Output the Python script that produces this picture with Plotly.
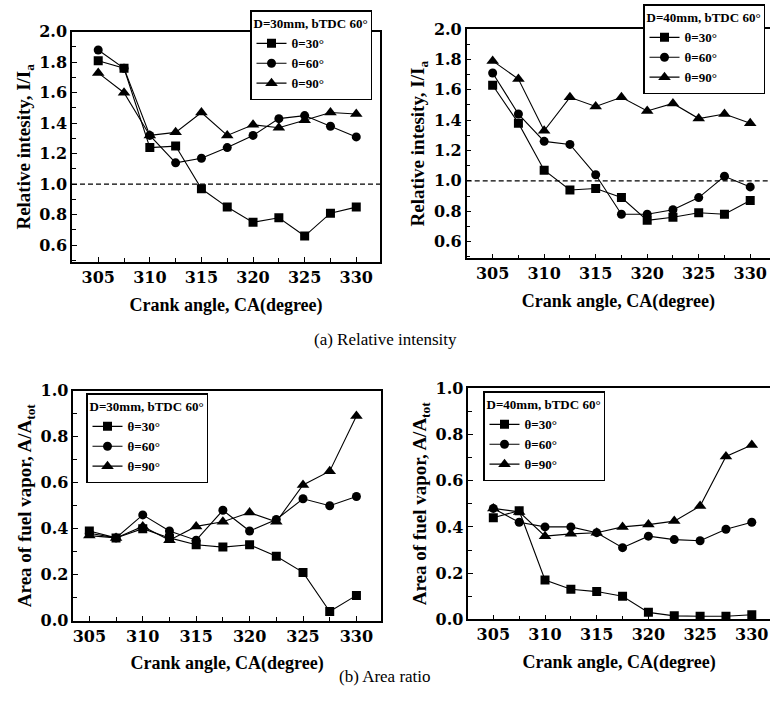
import plotly.graph_objects as go

crank = [305, 307.5, 310, 312.5, 315, 317.5, 320, 322.5, 325, 327.5, 330]

ri30_t30 = [1.81, 1.76, 1.24, 1.25, 0.97, 0.85, 0.75, 0.78, 0.66, 0.81, 0.85]
ri30_t60 = [1.88, 1.76, 1.32, 1.14, 1.17, 1.24, 1.32, 1.43, 1.45, 1.38, 1.31]
ri30_t90 = [1.73, 1.60, 1.32, 1.34, 1.47, 1.32, 1.39, 1.37, 1.42, 1.47, 1.46]

ri40_t30 = [1.63, 1.38, 1.07, 0.94, 0.95, 0.89, 0.74, 0.76, 0.79, 0.78, 0.87]
ri40_t60 = [1.71, 1.44, 1.26, 1.24, 1.04, 0.78, 0.78, 0.81, 0.89, 1.03, 0.96]
ri40_t90 = [1.79, 1.67, 1.33, 1.55, 1.49, 1.55, 1.46, 1.51, 1.41, 1.44, 1.38]

ar30_t30 = [0.39, 0.36, 0.40, 0.36, 0.33, 0.32, 0.33, 0.28, 0.21, 0.04, 0.11]
ar30_t60 = [0.38, 0.36, 0.46, 0.39, 0.35, 0.48, 0.39, 0.44, 0.53, 0.50, 0.54]
ar30_t90 = [0.37, 0.36, 0.41, 0.35, 0.41, 0.43, 0.47, 0.43, 0.59, 0.65, 0.89]

ar40_t30 = [0.44, 0.47, 0.17, 0.13, 0.12, 0.10, 0.03, 0.015, 0.013, 0.013, 0.02]
ar40_t60 = [0.48, 0.42, 0.40, 0.40, 0.375, 0.31, 0.36, 0.345, 0.34, 0.39, 0.42]
ar40_t90 = [0.48, 0.465, 0.36, 0.37, 0.375, 0.40, 0.41, 0.425, 0.49, 0.705, 0.755]

theta_names = ["θ=30°", "θ=60°", "θ=90°"]
legend_titles = ["D=30mm, bTDC 60°", "D=40mm, bTDC 60°",
                 "D=30mm, bTDC 60°", "D=40mm, bTDC 60°"]
ref_level = 1.0

W, H = 770, 712
SERIF = "Liberation Serif"
TICKF = "DejaVu Serif"

def px_x(a, b):
    return [a / W, min(b / W, 1.0)]

def px_y(top, bottom):
    return [1 - bottom / H, 1 - top / H]

panels = [
    dict(data=[ri30_t30, ri30_t60, ri30_t90], xd=px_x(72, 380), yd=px_y(31.7, 262),
         xr=[302.46, 332.3], yr=[0.49, 2.0], ytitle="Relative intesity, I/I<sub>a</sub>",
         leg=(250, 10), ref=True),
    dict(data=[ri40_t30, ri40_t60, ri40_t90], xd=px_x(466.7, 770), yd=px_y(29, 258.3),
         xr=[302.48, 331.92], yr=[0.49, 2.0], ytitle="Relative intesity, I/I<sub>a</sub>",
         leg=(643, 4), ref=True),
    dict(data=[ar30_t30, ar30_t60, ar30_t90], xd=px_x(73.3, 381), yd=px_y(390.7, 620.7),
         xr=[303.5, 332.3], yr=[0.0, 1.0], ytitle="Area of fuel vapor, A/A<sub>tot</sub>",
         leg=(86, 393), ref=False),
    dict(data=[ar40_t30, ar40_t60, ar40_t90], xd=px_x(468.3, 770), yd=px_y(388.3, 619.3),
         xr=[302.58, 331.76], yr=[0.0, 1.0], ytitle="Area of fuel vapor, A/A<sub>tot</sub>",
         leg=(483, 391), ref=False),
]

symbols = ["square", "circle", "triangle-up"]
msizes = [9, 9, 11]

fig = go.Figure()
layout = dict(width=W, height=H, margin=dict(l=0, r=0, t=0, b=0, autoexpand=False),
              paper_bgcolor="white", plot_bgcolor="white", showlegend=True,
              font=dict(family=SERIF, color="black"))
shapes = []
for i, p in enumerate(panels):
    n = i + 1
    xa = "x" if n == 1 else f"x{n}"
    ya = "y" if n == 1 else f"y{n}"
    lg = "legend" if n == 1 else f"legend{n}"
    for k in range(3):
        fig.add_trace(go.Scatter(
            x=crank, y=p["data"][k], mode="lines+markers", name=theta_names[k],
            xaxis=xa, yaxis=ya, legend=lg, legendgroup=f"g{n}{k}",
            line=dict(color="black", width=1.1),
            marker=dict(symbol=symbols[k], size=msizes[k], color="black")))
    common_ax = dict(showline=True, linecolor="black", linewidth=1.5, mirror=True,
                     ticks="inside", ticklen=5, tickcolor="black", showgrid=False,
                     zeroline=False, automargin=False,
                     tickfont=dict(family=TICKF, size=16, color="black", weight="bold"))
    layout["xaxis" if n == 1 else f"xaxis{n}"] = dict(
        common_ax, domain=p["xd"], range=p["xr"], anchor=ya, tick0=305, dtick=5,
        minor=dict(dtick=2.5, tick0=305, ticks="inside", ticklen=4, tickcolor="black"),
        title=dict(text="Crank angle, CA(degree)", standoff=12,
                   font=dict(family=SERIF, size=18, color="black", weight="bold")))
    layout["yaxis" if n == 1 else f"yaxis{n}"] = dict(
        common_ax, domain=p["yd"], range=p["yr"], anchor=xa, tick0=0, dtick=0.2,
        tickformat=".1f",
        minor=dict(dtick=0.1, ticks="inside", ticklen=4, tickcolor="black"),
        title=dict(text=p["ytitle"], standoff=4,
                   font=dict(family=SERIF, size=19, color="black", weight="bold")))
    lx, ly = p["leg"]
    layout[lg] = dict(
        x=lx / W, y=1 - ly / H, xanchor="left", yanchor="top",
        bgcolor="white", bordercolor="black", borderwidth=1.5,
        itemwidth=30, tracegroupgap=0,
        title=dict(text=legend_titles[i],
                   font=dict(family=SERIF, size=13, color="black", weight="bold")),
        font=dict(family=SERIF, size=13, color="black", weight="bold"))
    if p["ref"]:
        shapes.append(dict(type="line", xref=f"{xa} domain", yref=ya,
                           x0=0, x1=1, y0=ref_level, y1=ref_level,
                           line=dict(color="black", width=1.2, dash="5px,3px")))

layout["shapes"] = shapes
layout["annotations"] = [
    dict(text="(a) Relative intensity", x=385 / W, y=1 - 339 / H, xref="paper", yref="paper",
         showarrow=False, font=dict(family=SERIF, size=17, color="black")),
    dict(text="(b) Area ratio", x=385 / W, y=1 - 688 / H, xref="paper", yref="paper",
         showarrow=False, font=dict(family=SERIF, size=17, color="black")),
]
fig.update_layout(**layout)
fig.write_html("out.html", config={"displayModeBar": False},
               post_script="document.body.style.margin='0px';document.body.style.overflow='hidden';")
